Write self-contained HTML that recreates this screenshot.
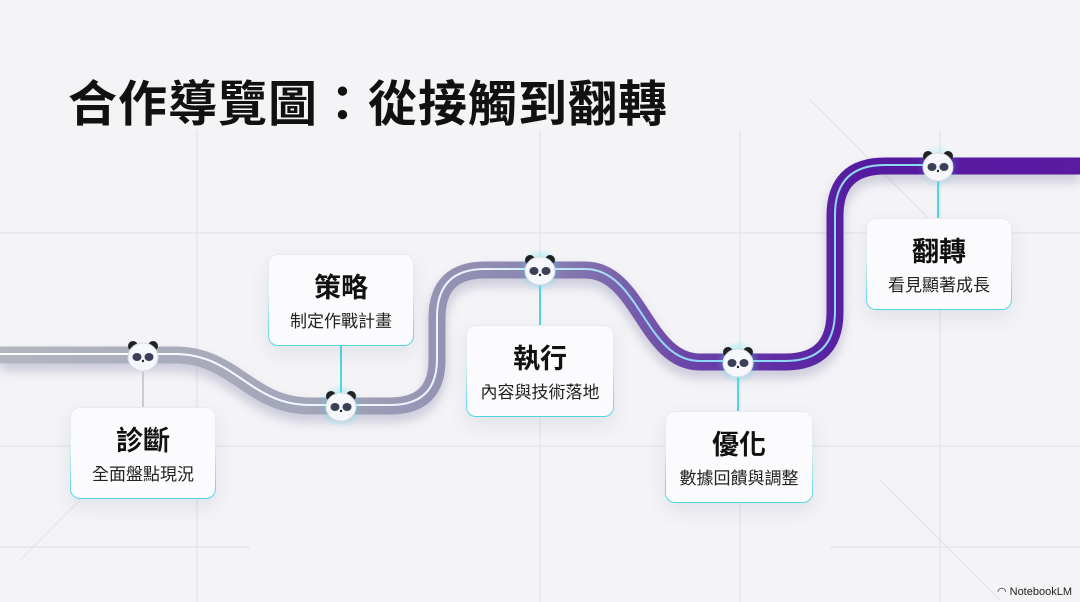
<!DOCTYPE html>
<html><head><meta charset="utf-8"><style>
html,body{margin:0;padding:0}
body{width:1080px;height:602px;background:#f4f4f7;position:relative;overflow:hidden;font-family:"Liberation Sans","Noto Sans CJK TC",sans-serif}
.title{position:absolute;left:68px;top:65px;font-size:49px;font-weight:bold;color:#111;letter-spacing:1px;font-family:"Liberation Sans","Noto Sans CJK TC",sans-serif;white-space:nowrap}
.box{position:absolute;width:146px;height:92px;box-sizing:border-box;border-radius:10px;border:1.5px solid transparent;background:linear-gradient(#fbfbfd,#fbfbfd) padding-box,linear-gradient(180deg,#e8eaf0 0%,#e0eef2 40%,#4fd6e0 100%) border-box;box-shadow:0 8px 18px rgba(90,100,130,0.12);text-align:center}
.box .h{font-size:27px;font-weight:bold;color:#111;margin-top:18px;line-height:30px}
.box .s{font-size:17px;color:#222;margin-top:9px;line-height:20px}
.nl{position:absolute;right:8px;bottom:4px;font-size:11px;color:#222}
</style></head><body>
<svg width="1080" height="602" style="position:absolute;left:0;top:0">
<defs>
<linearGradient id="g" x1="0" y1="0" x2="1080" y2="0" gradientUnits="userSpaceOnUse">
<stop offset="0" stop-color="#b3b6c0"/><stop offset="0.3" stop-color="#a2a4b8"/><stop offset="0.5" stop-color="#8a84b0"/><stop offset="0.65" stop-color="#6a3fa8"/><stop offset="0.8" stop-color="#541aa0"/><stop offset="1" stop-color="#5a1aa2"/>
</linearGradient>
<linearGradient id="g2" x1="0" y1="0" x2="1080" y2="0" gradientUnits="userSpaceOnUse">
<stop offset="0" stop-color="#ffffff"/><stop offset="0.45" stop-color="#e8f2ff"/><stop offset="0.6" stop-color="#8fd8f5"/><stop offset="1" stop-color="#8fd8f5"/>
</linearGradient>
<radialGradient id="glow"><stop offset="0" stop-color="#3fe0f0" stop-opacity="0.7"/><stop offset="1" stop-color="#3fe0f0" stop-opacity="0"/></radialGradient>
<filter id="sh" x="-10%" y="-20%" width="120%" height="160%"><feGaussianBlur stdDeviation="5"/></filter>
</defs>
<g stroke="#e3e3e8" stroke-width="1.2" fill="none">
<line x1="0" y1="233" x2="1080" y2="233"/><line x1="0" y1="446" x2="1080" y2="446"/><line x1="0" y1="547" x2="250" y2="547"/><line x1="830" y1="547" x2="1080" y2="547"/>
<line x1="197" y1="130" x2="197" y2="602"/><line x1="540" y1="130" x2="540" y2="602"/><line x1="740" y1="130" x2="740" y2="602"/><line x1="940" y1="130" x2="940" y2="602"/>
<line x1="20" y1="560" x2="160" y2="420"/><line x1="810" y1="100" x2="960" y2="250"/><line x1="880" y1="480" x2="1000" y2="600"/>
</g>
<path d="M0 362 H175 C235 362 250 413 310 413 H390 Q437 413 437 367 V325 Q437 277 485 277 H585 C640 277 645 369 700 369 H785 Q835 369 835 319 V223 Q835 173 885 173 H1080" stroke="#8a86a8" stroke-opacity="0.35" stroke-width="20" fill="none" filter="url(#sh)"/>
<path d="M0 355 H175 C235 355 250 406 310 406 H390 Q437 406 437 360 V318 Q437 270 485 270 H585 C640 270 645 362 700 362 H785 Q835 362 835 312 V216 Q835 166 885 166 H1080" stroke="url(#g)" stroke-width="17" fill="none"/>
<path d="M0 355 H175 C235 355 250 406 310 406 H390 Q437 406 437 360 V318 Q437 270 485 270 H585 C640 270 645 362 700 362 H785 Q835 362 835 312 V216 Q835 166 885 166 H940" stroke="url(#g2)" stroke-width="2" fill="none" transform="translate(0,-1)"/>
<g stroke="#4fd6e0" stroke-width="2">
<line x1="143" y1="365" x2="143" y2="407" stroke="#c8ccd4"/>
<line x1="341" y1="346" x2="341" y2="400"/>
<line x1="540" y1="280" x2="540" y2="325"/>
<line x1="738" y1="372" x2="738" y2="411"/>
<line x1="938" y1="176" x2="938" y2="218"/>
</g>
<circle cx="341" cy="406" r="22" fill="url(#glow)"/>
<circle cx="540" cy="270" r="22" fill="url(#glow)"/>
<circle cx="738" cy="362" r="22" fill="url(#glow)"/>
<circle cx="938" cy="166" r="22" fill="url(#glow)" opacity="0.6"/>
<g>
<g transform="translate(143,356)"><circle cx="-10" cy="-10" r="5" fill="#222"/><circle cx="10" cy="-10" r="5" fill="#222"/><ellipse cx="0" cy="1" rx="15" ry="14" fill="#f6f7fb" stroke="#d8dbe4"/><ellipse cx="-6" cy="1" rx="4.5" ry="4" fill="#3a4058"/><ellipse cx="6" cy="1" rx="4.5" ry="4" fill="#3a4058"/><circle cx="0" cy="5" r="1.2" fill="#222"/></g>
<g transform="translate(341,406)"><circle cx="-10" cy="-10" r="5" fill="#222"/><circle cx="10" cy="-10" r="5" fill="#222"/><ellipse cx="0" cy="1" rx="15" ry="14" fill="#f6f7fb" stroke="#d8dbe4"/><ellipse cx="-6" cy="1" rx="4.5" ry="4" fill="#3a4058"/><ellipse cx="6" cy="1" rx="4.5" ry="4" fill="#3a4058"/><circle cx="0" cy="5" r="1.2" fill="#222"/></g>
<g transform="translate(540,270)"><circle cx="-10" cy="-10" r="5" fill="#222"/><circle cx="10" cy="-10" r="5" fill="#222"/><ellipse cx="0" cy="1" rx="15" ry="14" fill="#f6f7fb" stroke="#d8dbe4"/><ellipse cx="-6" cy="1" rx="4.5" ry="4" fill="#3a4058"/><ellipse cx="6" cy="1" rx="4.5" ry="4" fill="#3a4058"/><circle cx="0" cy="5" r="1.2" fill="#222"/></g>
<g transform="translate(738,362)"><circle cx="-10" cy="-10" r="5" fill="#222"/><circle cx="10" cy="-10" r="5" fill="#222"/><ellipse cx="0" cy="1" rx="15" ry="14" fill="#f6f7fb" stroke="#d8dbe4"/><ellipse cx="-6" cy="1" rx="4.5" ry="4" fill="#3a4058"/><ellipse cx="6" cy="1" rx="4.5" ry="4" fill="#3a4058"/><circle cx="0" cy="5" r="1.2" fill="#222"/></g>
<g transform="translate(938,166)"><circle cx="-10" cy="-10" r="5" fill="#222"/><circle cx="10" cy="-10" r="5" fill="#222"/><ellipse cx="0" cy="1" rx="15" ry="14" fill="#f6f7fb" stroke="#d8dbe4"/><ellipse cx="-6" cy="1" rx="4.5" ry="4" fill="#3a4058"/><ellipse cx="6" cy="1" rx="4.5" ry="4" fill="#3a4058"/><circle cx="0" cy="5" r="1.2" fill="#222"/></g>
</g>
</svg>
<div class="title">合作導覽圖：從接觸到翻轉</div>
<div class="box" style="left:70px;top:407px"><div class="h">診斷</div><div class="s">全面盤點現況</div></div>
<div class="box" style="left:268px;top:254px"><div class="h">策略</div><div class="s">制定作戰計畫</div></div>
<div class="box" style="left:466px;top:325px;width:148px"><div class="h">執行</div><div class="s">內容與技術落地</div></div>
<div class="box" style="left:665px;top:411px;width:148px"><div class="h">優化</div><div class="s">數據回饋與調整</div></div>
<div class="box" style="left:866px;top:218px"><div class="h">翻轉</div><div class="s">看見顯著成長</div></div>
<div class="nl">◠ NotebookLM</div>
</body></html>
